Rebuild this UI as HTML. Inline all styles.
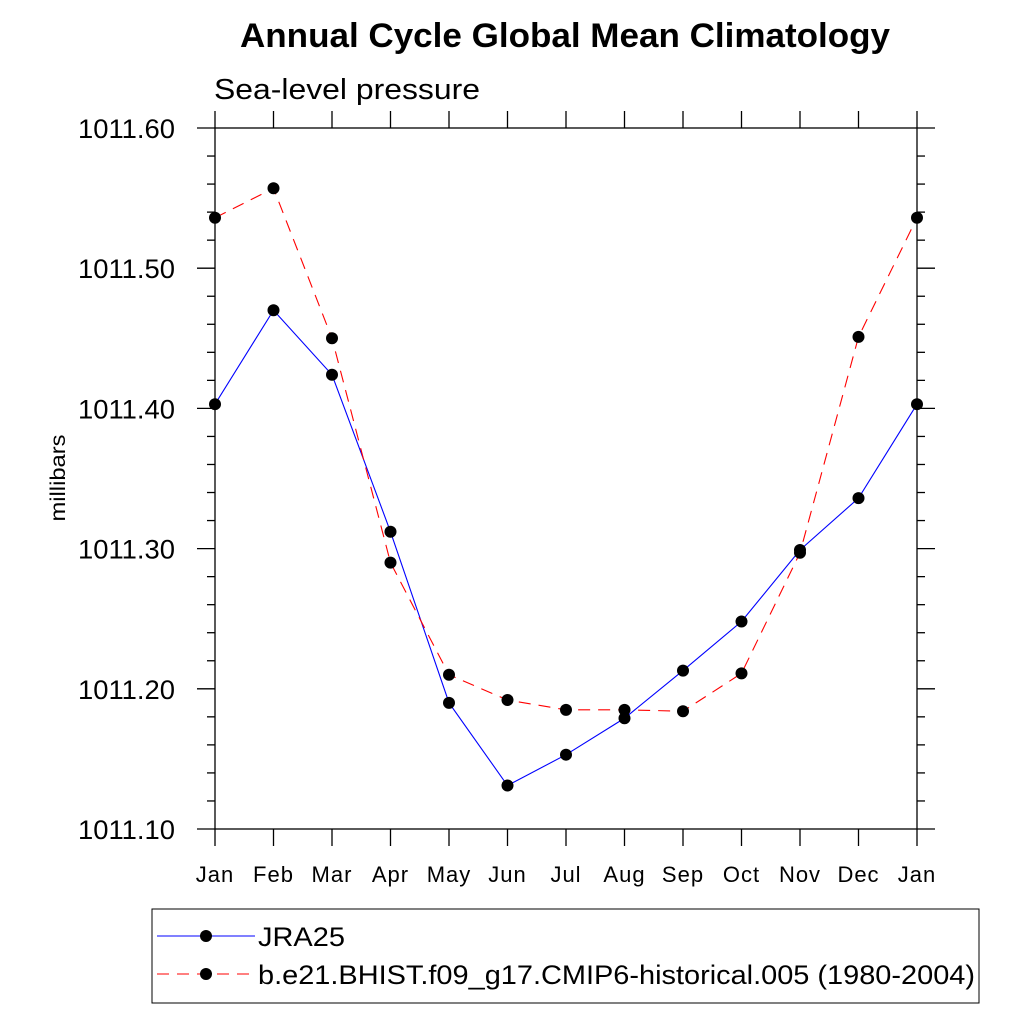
<!DOCTYPE html>
<html><head><meta charset="utf-8"><style>
body{margin:0;background:#fff}
text{font-family:"Liberation Sans",sans-serif}
</style></head><body>
<svg id="chart" width="1024" height="1024" viewBox="0 0 1024 1024" xmlns="http://www.w3.org/2000/svg">
<rect width="1024" height="1024" fill="#fff"/>
<text x="240" y="47" font-size="34" font-weight="bold" textLength="650" lengthAdjust="spacingAndGlyphs">Annual Cycle Global Mean Climatology</text>
<text x="214" y="99" font-size="29" textLength="266" lengthAdjust="spacingAndGlyphs">Sea-level pressure</text>
<text transform="translate(65,478) rotate(-90)" text-anchor="middle" font-size="21" textLength="87" lengthAdjust="spacingAndGlyphs">millibars</text>
<g id="axes"></g>
<g id="series"></g>
<rect x="152" y="909" width="827" height="94" fill="none" stroke="#000" stroke-width="1"/>
<g>
<line x1="157" y1="936" x2="255" y2="936" stroke="#0000ff" stroke-width="1"/>
<circle cx="206" cy="936" r="6" fill="#000"/>
<text x="258" y="946" font-size="27" textLength="87" lengthAdjust="spacingAndGlyphs">JRA25</text>
</g>
<g>
<line x1="157" y1="974" x2="255" y2="974" stroke="#ff0000" stroke-width="1" stroke-dasharray="12,8"/>
<circle cx="206" cy="974" r="6" fill="#000"/>
<text x="258" y="984" font-size="27" textLength="717" lengthAdjust="spacingAndGlyphs">b.e21.BHIST.f09_g17.CMIP6-historical.005 (1980-2004)</text>
</g>
</svg>
<script>
const months = ["Jan","Feb","Mar","Apr","May","Jun","Jul","Aug","Sep","Oct","Nov","Dec","Jan"];
const jra25 = [1011.403,1011.470,1011.424,1011.312,1011.190,1011.131,1011.153,1011.179,1011.213,1011.248,1011.299,1011.336,1011.403];
const model = [1011.536,1011.557,1011.450,1011.290,1011.210,1011.192,1011.185,1011.185,1011.184,1011.211,1011.297,1011.451,1011.536];
const yTicks = ["1011.10","1011.20","1011.30","1011.40","1011.50","1011.60"];
const X0=215,X1=917,Y0=829,Y1=128,YMIN=1011.10,YMAX=1011.60;
const ns="http://www.w3.org/2000/svg";
function xs(i){return X0+(X1-X0)*i/(months.length-1);}
function ys(v){return Y0-(v-YMIN)/(YMAX-YMIN)*(Y0-Y1);}
function mk(tag,attrs,parent){const e=document.createElementNS(ns,tag);for(const k in attrs)e.setAttribute(k,attrs[k]);parent.appendChild(e);return e;}
const axes=document.getElementById('axes');
const frame=mk('rect',{x:X0,y:Y1,width:X1-X0,height:Y0-Y1,fill:'none',stroke:'#000','stroke-width':1.3},axes);


months.forEach((m,i)=>{
  const x=xs(i);
  mk('line',{x1:x,y1:Y0,x2:x,y2:Y0+17,stroke:'#000','stroke-width':1.3},axes);
  mk('line',{x1:x,y1:Y1,x2:x,y2:Y1-17,stroke:'#000','stroke-width':1.3},axes);
  const t=mk('text',{x:x,y:882,'text-anchor':'middle','font-size':22,'letter-spacing':'1'},axes);
  t.textContent=m;
  
  
});
for(let k=0;k<=25;k++){
  const v=YMIN+k*0.02;const y=ys(v);const major=k%5===0;
  const L=major?18:8;
  mk('line',{x1:X0-L,y1:y,x2:X0,y2:y,stroke:'#000','stroke-width':1.3},axes);
  mk('line',{x1:X1,y1:y,x2:X1+L,y2:y,stroke:'#000','stroke-width':1.3},axes);
}
yTicks.forEach(s=>{
  const t=mk('text',{x:175,y:ys(parseFloat(s))+10,'text-anchor':'end','font-size':27,textLength:97,lengthAdjust:'spacingAndGlyphs'},axes);
  t.textContent=s;
  
  
});
const sg=document.getElementById('series');
function draw(vals,color,dash,name){
  const g=mk('g',{},sg);
  
  
  const pts=vals.map((v,i)=>xs(i)+','+ys(v)).join(' ');
  const a={points:pts,fill:'none',stroke:color,'stroke-width':1.1};
  if(dash)a['stroke-dasharray']=dash;
  mk('polyline',a,g);
  vals.forEach((v,i)=>{
    const c=mk('circle',{cx:xs(i),cy:ys(v),r:6,fill:'#000'},g);
    
    
  });
}
draw(jra25,'#0000ff',null,'series-jra25');
draw(model,'#ff0000','12,8','series-model');
</script>
</body></html>
